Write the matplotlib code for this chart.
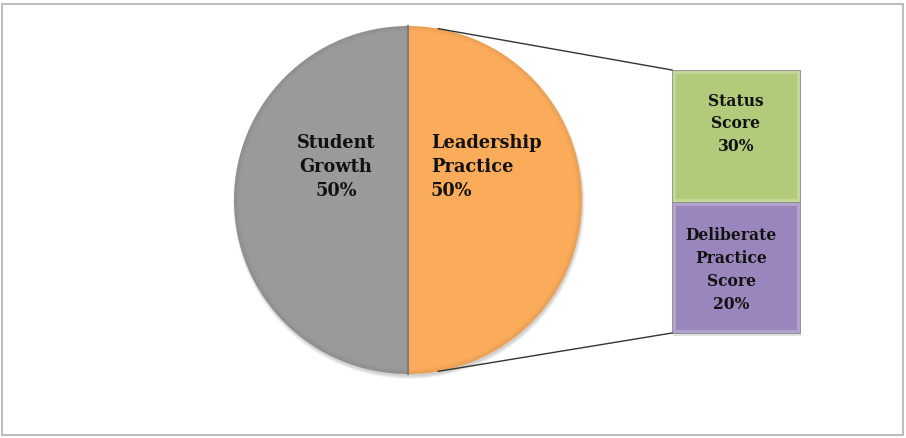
import matplotlib.pyplot as plt
from matplotlib.patches import Rectangle, Wedge, Circle
import numpy as np

# pie data
pie_labels = ['Student\nGrowth\n50%', 'Leadership\nPractice\n50%']
pie_values = [50, 50]
pie_colors = ['#9a9a9a', '#fbac5b']

# the bar that splits "Leadership Practice"
bar_labels = ['Status\nScore\n30%', 'Deliberate\nPractice\nScore\n20%']
bar_shares = [50, 50]   # both pieces are drawn the same height
bar_colors = ['#b2cb7b', '#9a86bd']

W, H = 906, 438
fig = plt.figure(figsize=(W / 100, H / 100), dpi=100)
ax = fig.add_axes([0, 0, 1, 1])

cx, cy, r = 408, 238, 174

# soft shadow under the pie
for i in range(6):
    ax.add_patch(Circle((cx + 1, cy - 3), r + 2 - i * 0.6, color='black',
                        alpha=0.03, lw=0, zorder=0))

wedges, _ = ax.pie(pie_values, colors=pie_colors, startangle=90,
                   center=(cx, cy), radius=r, frame=True,
                   wedgeprops=dict(linewidth=0))

# bevel: darker rim on each wedge
for w in wedges:
    for i in range(5):
        ax.add_patch(Wedge((cx, cy), r - i, w.theta1, w.theta2, width=1,
                           color='black', alpha=0.07 * (5 - i) / 5, lw=0,
                           zorder=3))
ax.plot([cx, cx], [cy - r, cy + r], color='#7a7a7a', lw=1.5, zorder=3)

ax.text(336, 271, pie_labels[0], ha='center', va='center',
        family='DejaVu Serif', fontweight='bold', fontsize=12.8,
        linespacing=1.42, color='#111111', zorder=5)
ax.text(431, 271, pie_labels[1], ha='left', va='center',
        family='DejaVu Serif', fontweight='bold', fontsize=12.8,
        linespacing=1.42, color='#111111', zorder=5)

# stacked bar, scaled to the bar's pixel height
bx, bw, btop, bbot = 736, 128, H - 70, H - 333
heights = np.array(bar_shares[::-1], dtype=float)
heights = heights / heights.sum() * (btop - bbot)
bottoms = bbot + np.concatenate([[0], np.cumsum(heights)[:-1]])
cols = bar_colors[::-1]
ax.bar([bx + 1, bx + 1], heights, width=bw, bottom=bottoms - 3,
       color='black', alpha=0.12, lw=0, zorder=1)
bars = ax.bar([bx, bx], heights, width=bw, bottom=bottoms, color=cols,
              edgecolor='#8c8c8c', linewidth=0.6, zorder=2)
for b in bars:
    x0, y0 = b.get_x(), b.get_y()
    ax.add_patch(Rectangle((x0 + 2, y0 + 2), b.get_width() - 4,
                           b.get_height() - 4, fill=False,
                           edgecolor='white', alpha=0.25, lw=2, zorder=3))

lab_y = [H - 124, H - 270]
lab_x = [736, 731]
for t, x, y in zip(bar_labels, lab_x, lab_y):
    ax.text(x, y, t, ha='center', va='center', family='DejaVu Serif',
            fontweight='bold', fontsize=11.2, linespacing=1.45,
            color='#111111', zorder=5)

# connector lines from the split wedge to the bar
a = np.radians(80)
px = cx + r * np.cos(a)
ax.plot([px, bx - bw / 2], [cy + r * np.sin(a), btop], color='#333333',
        lw=1, zorder=4)
ax.plot([px, bx - bw / 2], [cy - r * np.sin(a), bbot], color='#333333',
        lw=1, zorder=4)

ax.set_xlim(0, W)
ax.set_ylim(0, H)
ax.set_aspect('equal')
ax.axis('off')

# chart frame
fig.patches.append(Rectangle((2 / W, 3 / H), 901 / W, 431 / H,
                             transform=fig.transFigure, fill=False,
                             edgecolor='#bdbdbd', linewidth=1.5))

fig.savefig('out.png', dpi=100)
